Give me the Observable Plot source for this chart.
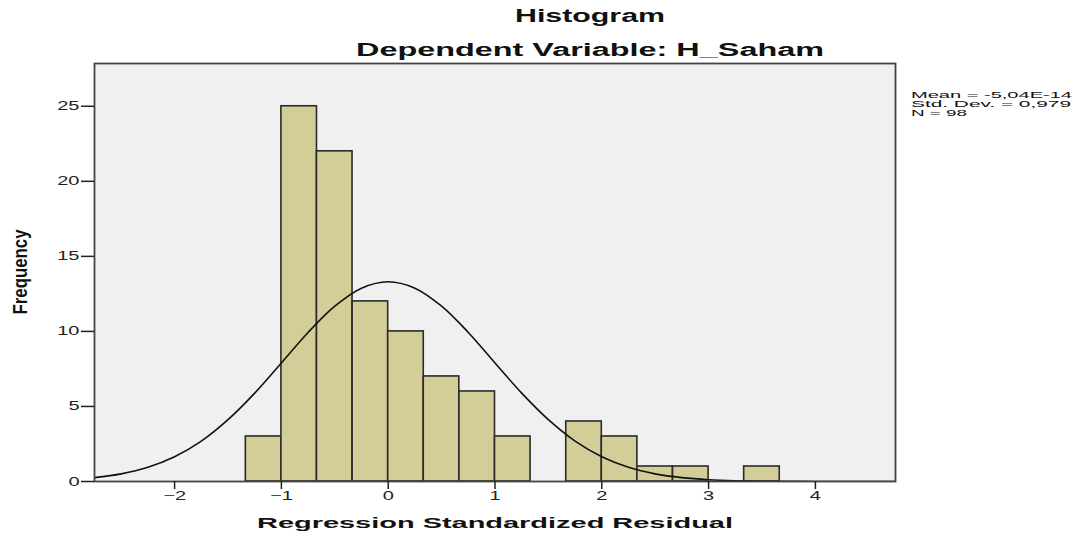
<!DOCTYPE html>
<html><head><meta charset="utf-8">
<script src="https://cdn.jsdelivr.net/npm/d3@7"></script>
<script src="https://cdn.jsdelivr.net/npm/@observablehq/plot@0.6"></script>
<style>body{margin:0;background:#fff;} svg{display:block}</style>
</head><body><div id="chart"></div>
<script>
// ---- data ----
const binStarts = [-1.333, -1.0, -0.667, -0.333, 0.0, 0.333, 0.667, 1.0, 1.333, 1.667, 2.0, 2.333, 2.667, 3.0, 3.333];
const counts    = [3, 25, 22, 12, 10, 7, 6, 3, 0, 4, 3, 1, 1, 0, 1];
const binWidth = 0.333;
const curveX = [-2.75, -2.5, -2.25, -2, -1.75, -1.5, -1.25, -1, -0.75, -0.5, -0.25, 0, 0.25, 0.5, 0.75, 1, 1.25, 1.5, 1.75, 2, 2.25, 2.5, 2.75, 3, 3.25, 3.5, 3.75, 4, 4.25, 4.5, 4.75];
const curveY = [0.26, 0.51, 0.95, 1.65, 2.69, 4.12, 5.89, 7.90, 9.93, 11.68, 12.88, 13.31, 12.88, 11.68, 9.93, 7.90, 5.89, 4.12, 2.69, 1.65, 0.95, 0.51, 0.26, 0.12, 0.05, 0.02, 0.01, 0, 0, 0, 0];
const xTicks = [-2, -1, 0, 1, 2, 3, 4];
const yTicks = [0, 5, 10, 15, 20, 25];
const titleText = "Histogram";
const subtitleText = "Dependent Variable: H_Saham";
const xLabel = "Regression Standardized Residual";
const yLabel = "Frequency";
const statLines = ["Mean = -5,04E-14", "Std. Dev. = 0,979", "N = 98"];

// ---- build tables ----
const bins = binStarts.map((s, i) => ({x1: s, x2: s + binWidth, y: counts[i]})).filter(d => d.y > 0);
const curve = curveX.map((x, i) => ({x, y: curveY[i]}));

const FONT = "'Liberation Sans', Arial, sans-serif";

const chart = Plot.plot({
  width: 1085, height: 538,
  marginLeft: 94, marginRight: 190, marginTop: 63, marginBottom: 57,
  style: {fontFamily: FONT, fontSize: "12.5px", color: "#222", background: "#fff"},
  x: {domain: [-2.75, 4.75]},
  y: {domain: [0, 27.85]},
  marks: [
    Plot.frame({fill: "#f0f0f0", stroke: null}),
    Plot.rectY(bins, {x1: "x1", x2: "x2", y: "y", fill: "#d3ce97", stroke: "#2a2a2a", strokeWidth: 1.6, inset: 0}),
    Plot.line(curve, {x: "x", y: "y", stroke: "#111", strokeWidth: 1.6, curve: "catmull-rom", clip: true}),
    Plot.frame({stroke: "#444", strokeWidth: 1.8}),
    Plot.axisX({ticks: xTicks, tickSize: 8, tickPadding: 2, label: null, stroke: "#222", strokeWidth: 1.5}),
    Plot.axisY({ticks: yTicks, tickSize: 13, tickPadding: 2, label: null, stroke: "#222", strokeWidth: 1.5})
  ]
});
document.getElementById("chart").appendChild(chart);

const svg = d3.select(chart);
// stretch tick labels horizontally to match the wide look of the reference
svg.selectAll('g[aria-label="x-axis tick label"] text, g[aria-label="y-axis tick label"] text').each(function() {
  const w = this.getComputedTextLength();
  this.setAttribute("textLength", w * 1.6);
  this.setAttribute("lengthAdjust", "spacingAndGlyphs");
});

function addText(txt, x, y, size, weight, len, anchor) {
  svg.append("text")
    .attr("x", x).attr("y", y)
    .attr("text-anchor", anchor || "middle")
    .attr("font-family", FONT).attr("font-size", size).attr("font-weight", weight)
    .attr("fill", "#111")
    .attr("textLength", len).attr("lengthAdjust", "spacingAndGlyphs")
    .text(txt);
}
addText(titleText, 590, 22, 18, "bold", 150);
addText(subtitleText, 590, 56, 18, "bold", 468);
addText(xLabel, 495, 528, 15.5, "bold", 476);
const statLens = [161, 160, 56];
statLines.forEach((t, i) => {
  addText(t, 911, 98 + i * 9, 9.5, "normal", statLens[i], "start");
});
svg.append("text")
  .attr("transform", "translate(27,272) scale(1.25,1) rotate(-90)")
  .attr("text-anchor", "middle")
  .attr("font-family", FONT).attr("font-size", 16).attr("font-weight", "bold")
  .attr("fill", "#111")
  .attr("textLength", 85).attr("lengthAdjust", "spacingAndGlyphs")
  .text(yLabel);
</script>
</body></html>
